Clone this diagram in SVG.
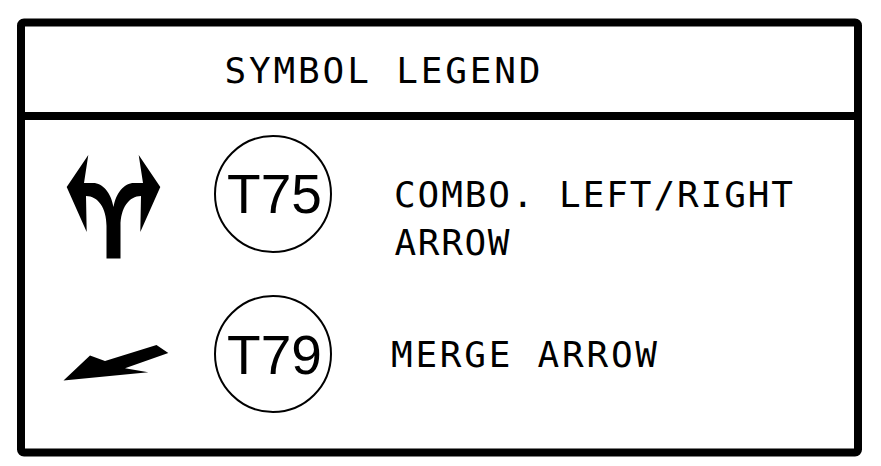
<svg xmlns="http://www.w3.org/2000/svg" width="881" height="466" viewBox="0 0 881 466">
<style>
.frame{fill:none;stroke:#000;stroke-width:8}
.lbl{font-family:"DejaVu Sans Mono","Liberation Mono",monospace;font-size:36px;fill:#000}
.code{font-family:"Liberation Sans",Arial,sans-serif;font-size:55px;fill:#000;text-anchor:middle}
.ring{fill:#fff;stroke:#000;stroke-width:2}
.sym{fill:#000;stroke:none}
</style>
<rect width="881" height="466" fill="#fff"/>
<g id="frame">
<rect class="frame" x="21" y="22.5" width="837" height="430" rx="3"/>
<line class="frame" x1="21" y1="116" x2="858" y2="116"/>
</g>
<g id="title"><text class="lbl" x="224.5" y="82.7" textLength="316" lengthAdjust="spacing">SYMBOL LEGEND</text></g>
<g id="row-t75">
<path class="sym" d="M113.5,258.5 L106.5,258.5 L106.5,226 C106.5,208 98,196 86,196 L86.7,232 L66.7,187 L88.3,155 L84,183 L93,183 C103,183 111,193 113.5,207 C116,193 124,183 134,183 L143,183 L138.7,155 L160.3,187 L140.3,232 L141,196 C129,196 120.5,208 120.5,226 L120.5,258.5 Z"/>
<circle class="ring" cx="273" cy="194" r="58"/>
<text class="code" x="274.5" y="213">T75</text>
<text class="lbl" x="394" y="207.3" textLength="399" lengthAdjust="spacing">COMBO. LEFT/RIGHT</text>
<text class="lbl" x="394.5" y="255" textLength="115" lengthAdjust="spacing">ARROW</text>
<text class="lbl" x="391" y="367.3" textLength="266" lengthAdjust="spacing">MERGE ARROW</text>
</g>
<g id="row-t79">
<polygon class="sym" points="63.5,380.5 90,355.5 105,361 156.5,345 168.3,353 125,368.3 148.3,372.3"/>
<circle class="ring" cx="273" cy="354" r="58"/>
<text class="code" x="274.5" y="373.5">T79</text>
</g>
<g id="connectors"/>
</svg>
